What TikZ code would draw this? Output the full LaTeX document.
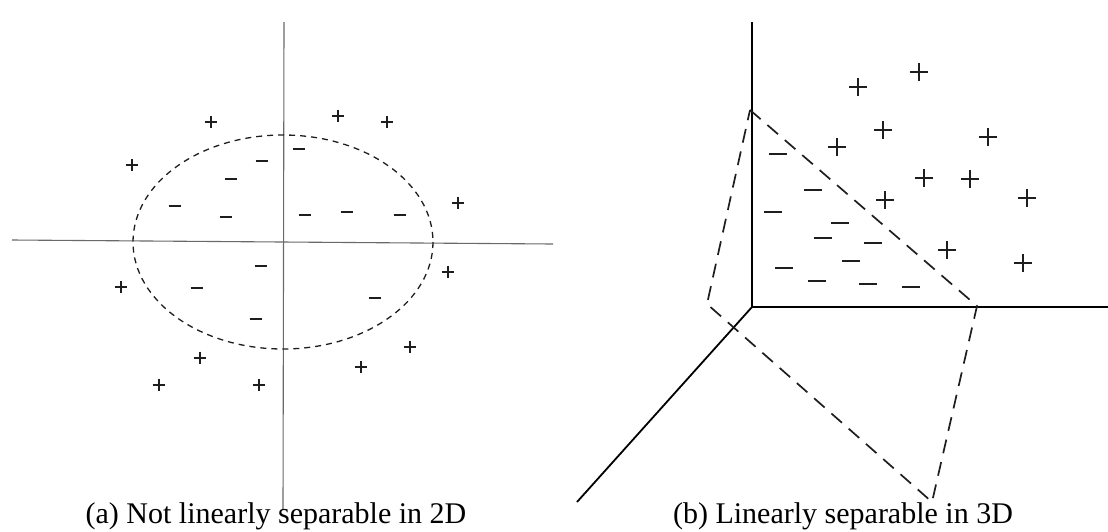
\documentclass[tikz,border=0pt]{standalone}
\usepackage{fontspec}
\setmainfont{Liberation Serif}
\usetikzlibrary{calc}
\definecolor{axisgray}{RGB}{105,105,105}
\definecolor{ink}{RGB}{30,30,30}
\tikzset{
  x=1pt,y=-1pt,
  flat axis/.style={draw=axisgray,line width=1.1pt},
  space axis/.style={draw=black,line width=#1},
  space axis/.default=2.6pt,
  boundary/.style={draw=ink,line width=1.3pt,dash pattern=on 6pt off 5pt},
  plane/.style={draw=ink,line width=1.7pt,dash pattern=on 14pt off 9pt},
  caption/.style={font=\fontsize{30}{36}\selectfont,anchor=base},
  % class markers
  pics/plus/.style={code={
    \draw (-#1,0) -- (#1,0) (0,-#1) -- (0,#1);
  }},
  pics/plus/.default=6.3,
  pics/minus/.style={code={
    \draw (-#1,0) -- (#1,0);
  }},
  pics/minus/.default=6.3,
}
\begin{document}
\begin{tikzpicture}
  \useasboundingbox (0,0) rectangle (1108,531);
  % (a) 2D
  \coordinate (xl) at (12,240);   \coordinate (xr) at (553,244);
  \coordinate (yt) at (284,22);   \coordinate (yb) at (283,510);
  \coordinate (o2) at (283,242);
  \draw[flat axis] (xl) -- (xr);
  \draw[flat axis] (yt) -- (yb);
  \draw[boundary] (o2) ellipse [x radius=150, y radius=107];
  \begin{scope}[line width=1.1pt,ink]
    \foreach \x/\y in {211/122,132/165,338/116,387/122,458/203,448/272,
      121/287,410/347,200/358,361/367,159/385,259/385}
      \pic at (\x,\y) {plus};
    \foreach \x/\y in {299/149,262/161,231/179,175/206,226/217,305/215,
      347/212,400/215,261/266,197/288,375/298,256/319}
      \pic at (\x,\y) {minus};
  \end{scope}
  \node[caption] (capa) at (276,523) {(a) Not linearly separable in 2D};
  % (b) 3D
  \coordinate (o3) at (752,307);
  \coordinate (zt) at (752,22);
  \coordinate (xe) at (1108,307);
  \coordinate (de) at (577,502);
  \draw[space axis] (zt) -- (o3) -- (xe);
  \draw[space axis=1.8pt] (o3) -- (de);
  \coordinate (pa) at (750,110);
  \coordinate (pb) at (977,306);
  \coordinate (pc) at (932,502);
  \coordinate (pd) at (707,304);
  \draw[plane] (pa) -- (pb) -- (pc) -- (pd) -- cycle;
  \begin{scope}[line width=1.5pt,ink]
    \foreach \x/\y in {858/87,919/72,883/130,837/147,988/137,924/178,
      970/179,885/200,1027/198,947/250,1023/263}
      \pic at (\x,\y) {plus=9};
    \foreach \x/\y in {778/154,813/190,773/212,840/223,823/238,873/243,
      851/261,784/268,817/281,868/284,911/287}
      \pic at (\x,\y) {minus=9};
  \end{scope}
  \node[caption] (capb) at (843,523) {(b) Linearly separable in 3D};
\end{tikzpicture}
\end{document}
